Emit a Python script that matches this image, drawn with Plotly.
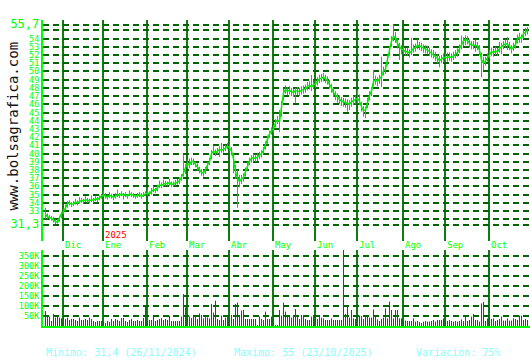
import plotly.graph_objects as go

# ---- price data (one bar per trading day, 19/11/2024 -> 24/10/2025) ----
close = [
 32.6,32.3,32.2,32.1,31.9,31.7,31.6,32.2,32.7,32.9,
 33.4,33.9,34.0,33.8,33.9,34.1,34.0,34.2,34.3,34.2,
 34.4,34.3,34.2,34.4,34.3,34.5,34.4,34.6,34.8,35.0,
 34.8,34.7,34.9,34.8,34.7,34.8,35.0,34.9,35.1,34.9,
 35.0,34.8,35.1,35.0,34.9,34.8,34.9,35.0,34.8,35.0,
 35.1,35.2,35.1,35.4,35.6,35.5,35.8,36.2,36.1,36.3,
 36.4,36.3,36.5,36.2,36.3,36.4,36.5,36.7,37.1,37.6,
 38.3,38.8,38.6,39.1,39.0,38.7,38.3,38.0,37.7,37.6,
 38.0,38.6,39.0,40.0,40.3,40.1,40.3,40.5,40.4,40.5,
 40.7,40.9,40.7,40.3,39.4,37.8,37.0,36.6,36.9,37.1,
 37.8,38.6,39.1,39.4,39.5,39.4,39.6,39.8,40.0,40.4,
 41.1,41.8,42.4,42.8,43.0,43.8,44.1,43.9,45.8,47.4,
 47.8,47.6,47.7,47.5,47.4,47.7,47.6,47.5,47.7,47.8,
 47.9,48.2,48.3,48.1,48.4,48.5,48.8,49.1,49.2,49.3,
 49.1,48.9,48.4,48.0,47.4,47.1,46.8,46.6,46.4,46.3,
 46.2,46.1,46.0,46.3,46.5,46.6,46.7,46.4,45.7,45.2,
 45.3,46.3,47.1,47.6,48.8,49.0,48.8,49.1,49.4,50.1,
 50.3,51.5,52.6,53.7,54.3,54.1,53.4,53.0,52.7,52.6,
 52.4,52.4,52.2,52.5,52.8,52.9,53.2,53.1,53.0,52.8,
 52.7,52.6,52.4,52.2,52.1,51.9,51.6,51.3,51.5,51.7,
 51.7,51.7,51.8,51.7,51.9,52.1,52.3,52.8,53.3,53.7,
 53.9,53.8,53.4,53.2,53.2,53.2,53.1,52.6,51.4,51.0,
 51.3,51.7,52.1,52.4,52.3,52.5,52.4,52.8,53.0,53.2,
 53.4,53.3,53.1,52.7,53.0,53.3,54.0,54.2,54.0,54.6,
 54.8,55.0]
high = [
 33.4,32.7,32.5,32.4,32.3,32.0,32.0,32.4,32.9,33.3,
 33.8,34.2,34.3,34.1,34.2,34.5,34.3,34.7,34.6,34.5,
 34.8,34.6,34.5,34.9,34.6,34.8,34.7,34.9,35.1,35.5,
 35.2,35.0,35.3,35.1,35.0,35.2,35.6,35.2,35.4,35.2,
 35.3,35.1,35.5,35.3,35.2,35.1,35.2,35.3,35.2,35.3,
 35.4,35.6,35.4,35.8,36.0,35.8,36.2,36.7,36.5,36.8,
 36.7,36.6,36.9,36.6,36.6,36.8,36.9,37.1,37.5,39.8,
 38.7,39.2,39.4,39.5,39.4,39.1,38.8,38.4,38.1,38.0,
 38.4,39.0,39.5,40.4,40.9,40.5,40.7,40.9,41.3,40.9,
 41.1,41.3,41.2,40.8,40.1,38.6,38.0,37.4,37.4,37.6,
 38.3,39.0,39.5,39.8,40.0,39.9,40.1,40.2,40.4,40.8,
 41.5,42.2,42.8,43.2,43.5,44.2,44.6,45.3,46.4,47.9,
 48.3,48.1,48.2,48.0,47.9,48.0,48.1,48.0,48.2,48.3,
 48.4,48.7,48.8,49.6,48.9,49.0,49.3,49.6,49.7,49.8,
 49.6,49.4,49.0,48.5,48.0,47.6,47.3,47.1,46.9,46.8,
 46.7,46.6,46.5,46.8,47.0,47.1,47.7,47.2,46.3,45.8,
 45.7,46.8,47.6,48.1,50.2,49.5,49.3,49.6,51.8,50.6,
 50.8,52.0,53.1,54.3,55.7,54.8,54.0,53.5,53.2,53.1,
 52.9,52.9,52.7,54.1,53.3,53.4,53.9,53.6,53.5,53.3,
 53.2,53.1,52.9,52.7,52.6,52.4,52.1,51.9,52.0,52.2,
 52.2,52.3,52.3,52.2,52.4,52.6,52.8,53.3,54.4,54.2,
 54.4,54.3,53.9,53.7,53.7,53.9,53.6,53.2,52.3,51.8,
 51.8,52.2,52.6,52.9,52.8,53.0,52.9,53.6,53.5,53.7,
 53.9,54.2,53.6,53.2,53.5,53.8,54.5,54.7,54.5,55.1,
 55.3,55.4]
low = [
 32.0,32.0,31.9,31.8,31.6,31.4,31.5,31.7,32.1,32.6,
 33.0,33.4,33.7,33.5,33.6,33.8,33.7,33.9,34.0,33.9,
 34.1,34.0,33.9,34.1,34.0,34.2,34.1,34.3,34.5,34.7,
 34.5,34.4,34.6,34.5,34.3,34.5,34.7,34.6,34.8,34.4,
 34.7,34.5,34.8,34.7,34.6,34.5,34.6,34.7,34.5,34.7,
 34.8,34.9,34.8,35.0,35.3,35.2,35.4,35.8,35.8,35.9,
 36.0,36.0,36.1,35.9,36.0,36.1,36.2,36.3,36.7,37.2,
 37.5,38.2,38.2,38.6,38.6,38.3,37.9,37.6,37.3,37.2,
 37.5,38.1,38.6,39.3,39.9,39.7,39.9,39.6,40.1,40.1,
 40.3,40.5,40.3,39.8,37.6,36.9,33.4,35.9,36.3,36.6,
 37.2,38.0,38.6,38.9,39.0,39.0,39.1,39.3,39.5,39.9,
 40.5,41.2,41.9,42.3,42.5,43.2,43.6,42.6,44.5,46.5,
 47.3,47.1,47.2,47.0,46.9,46.2,47.1,47.0,47.2,47.3,
 47.4,47.7,47.8,47.6,47.9,48.0,48.3,48.6,48.7,48.8,
 48.6,48.4,47.9,47.4,46.9,46.5,46.2,46.0,45.8,45.7,
 45.6,45.1,45.3,45.7,45.9,46.0,46.1,45.9,45.1,44.5,
 44.3,45.5,46.5,47.0,48.2,48.4,48.2,48.5,48.1,49.5,
 49.7,50.8,51.9,53.0,53.7,53.5,52.8,51.4,52.1,52.1,
 51.9,51.9,51.7,52.0,52.3,52.4,52.7,52.6,52.5,52.3,
 52.2,52.1,51.9,51.7,51.6,51.3,51.0,50.5,51.0,51.2,
 51.2,51.2,51.3,51.2,51.4,51.6,51.8,52.2,52.7,53.1,
 53.2,53.3,52.9,52.7,52.7,52.4,52.6,52.0,49.3,50.2,
 50.7,51.2,51.6,51.9,51.8,52.0,51.9,52.3,52.1,52.7,
 52.9,52.6,52.6,52.2,52.5,52.8,53.4,53.5,53.5,54.0,
 54.3,54.5]
# volume in thousands
volume = [
 75,47,47,25,60,42,47,42,38,38,35,42,30,35,35,30,25,42,30,30,
 35,30,42,35,25,20,25,25,25,25,15,25,20,35,25,35,30,25,40,40,
 25,20,30,35,25,25,30,25,25,40,97,25,30,30,47,25,30,35,40,30,
 35,30,50,25,25,25,25,25,47,160,93,50,47,40,50,47,35,63,
 55,38,50,43,38,110,67,127,35,30,52,30,42,55,55,55,35,110,117,55,
 77,80,35,35,35,35,35,35,5,47,35,30,72,35,35,47,30,5,5,80,
 52,117,72,55,55,42,55,85,55,35,55,52,35,30,30,47,55,55,35,55,
 42,38,30,30,30,38,30,30,30,30,30,420,60,105,42,80,38,35,55,52,
 50,35,55,55,42,42,83,52,33,25,35,42,88,38,122,80,38,80,80,38,
 38,30,27,25,25,25,38,22,25,20,15,22,25,22,22,25,30,22,30,30,
 30,38,25,25,30,25,22,25,22,25,33,25,50,25,30,47,60,30,30,22,
 113,120,25,38,38,35,38,25,30,35,47,27,27,38,27,27,38,35,30,52,
 52,30,35,30]

month_idx = [9, 29, 51, 71, 92, 114, 135, 156, 179, 200, 222]
month_lbl = ["Dic", "Ene", "Feb", "Mar", "Abr", "May", "Jun", "Jul", "Ago", "Sep", "Oct"]
year_lbl = "2025"
price_ticks = [31.3] + list(range(32, 56)) + [55.7]
vol_ticks = [50, 100, 150, 200, 250, 300, 350]

days = list(range(len(close)))

MONO = "DejaVu Sans Mono"
LIME = "#00ff00"
GRID = "#006400"
VLINE = "#107c10"

# high-low segments and volume segments built from the data
seg_x, seg_y = [], []
for i, (h, l) in enumerate(zip(high, low)):
    seg_x += [i, i, None]
    seg_y += [l, h, None]
vol_x, vol_y = [], []
for i, v in enumerate(volume):
    vol_x += [i, i, None]
    vol_y += [0, v, None]

fig = go.Figure()
fig.add_trace(go.Scatter(x=seg_x, y=seg_y, mode="lines",
                         line=dict(color="#1fa0b2", width=1),
                         hoverinfo="skip", xaxis="x", yaxis="y"))
fig.add_trace(go.Scatter(x=days, y=close, mode="lines",
                         line=dict(color="#00f000", width=1.5),
                         hoverinfo="skip", xaxis="x", yaxis="y"))
fig.add_trace(go.Scatter(x=vol_x, y=vol_y, mode="lines",
                         line=dict(color="#e00000", width=1),
                         hoverinfo="skip", xaxis="x2", yaxis="y2"))

def pt(v):
    s = ("%.1f" % v).replace(".", ",")
    return "<span style='font-size:12px'>%s</span>" % s

ptext = []
for v in price_ticks:
    if v in (31.3, 55.7):
        ptext.append(pt(v))
    elif v in (32, 55):
        ptext.append("")
    else:
        ptext.append(str(v))

xr = [-1.25, 242.25]
H = 306.0
main_dom = [(326 - 241) / H, 1.0]
vol_dom = [0.0, (326 - 250) / H]
# month separators sit on whole pixels (half a bar step to the left of the bar centre)
month_pos = [m - 0.25 for m in month_idx]

common_x = dict(range=xr, tickmode="array", tickvals=month_pos, showticklabels=False,
                showgrid=True, gridcolor=VLINE, gridwidth=2, zeroline=False, ticks="")

fig.update_layout(
    width=530, height=360,
    margin=dict(l=43, r=0, t=20, b=34),
    paper_bgcolor="white", plot_bgcolor="white",
    showlegend=False,
    xaxis=dict(**common_x, anchor="y", showline=False),
    xaxis2=dict(**common_x, anchor="y2", matches="x", showline=True,
                linecolor=LIME, linewidth=2),
    yaxis=dict(domain=main_dom, range=[29.35, 56.27], tickmode="array",
               tickvals=price_ticks, ticktext=ptext, showgrid=True,
               gridcolor=GRID, gridwidth=1.5, griddash="6px,4px",
               zeroline=False, showline=True, linecolor=LIME, linewidth=2,
               ticks="", tickfont=dict(family=MONO, size=8.5, color=LIME)),
    yaxis2=dict(domain=vol_dom, range=[0, 380], tickmode="array",
                tickvals=vol_ticks, ticktext=["%dK" % v for v in vol_ticks],
                showgrid=True, gridcolor=GRID, gridwidth=1.5, griddash="6px,4px",
                zeroline=False, showline=True, linecolor=LIME, linewidth=2,
                ticks="", tickfont=dict(family=MONO, size=8.5, color=LIME)),
)

ann = []
for idx, lbl in zip(month_pos, month_lbl):
    ann.append(dict(x=idx, y=(326 - 245) / H, xref="x", yref="paper", text=lbl,
                    showarrow=False, xanchor="left", yanchor="middle",
                    font=dict(family=MONO, size=9, color=LIME)))
ann.append(dict(x=month_pos[1], y=(326 - 235) / H, xref="x", yref="paper", text=year_lbl,
                showarrow=False, xanchor="left", yanchor="middle",
                font=dict(family=MONO, size=9, color="#ff0000")))
ann.append(dict(x=(12.5 - 43) / 487, y=(326 - 126) / H, xref="paper", yref="paper",
                text="www.bolsagrafica.com", textangle=-90, showarrow=False,
                xanchor="center", yanchor="middle",
                font=dict(family=MONO, size=14, color="#111111")))
for xp, txt in [(44, "Minimo: 31,4 (26/11/2024)"), (232, "Maximo: 55 (23/10/2025)"),
                (414, "Variación: 75%")]:
    ann.append(dict(x=(xp - 43) / 487, y=(326 - 352) / H, xref="paper", yref="paper",
                    text=txt, showarrow=False, xanchor="left", yanchor="middle",
                    font=dict(family=MONO, size=10, color="#88ffff")))
fig.update_layout(annotations=ann)

fig.write_html("out.html")
